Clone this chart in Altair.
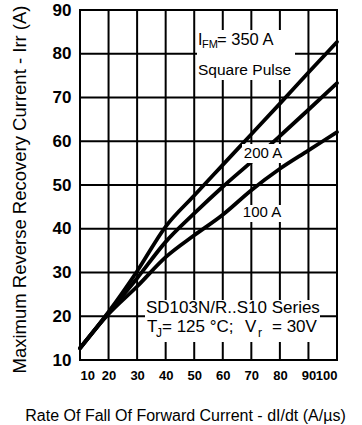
import altair as alt
import pandas as pd

# ---- data ----
rate = [10, 20, 30, 40, 50, 60, 70, 80, 90, 100]          # dI/dt (A/us)
irr_350 = [12.7, 21.0, 30.3, 40.5, 47.6, 54.6, 61.6, 68.6, 75.7, 82.7]
irr_200 = [12.7, 20.8, 28.7, 37.0, 43.5, 49.6, 55.3, 61.2, 67.2, 73.3]
irr_100 = [12.7, 20.5, 26.8, 33.5, 38.5, 43.2, 48.8, 53.7, 57.9, 62.1]
series_names = ["350 A", "200 A", "100 A"]
x_ticks = [10, 20, 30, 40, 50, 60, 70, 80, 90, 100]
y_ticks = [10, 20, 30, 40, 50, 60, 70, 80, 90]

rows = []
for name, vals in zip(series_names, [irr_350, irr_200, irr_100]):
    for r, v in zip(rate, vals):
        rows.append({"series": name, "rate": r, "irr": v})
df = pd.DataFrame(rows)

# grid lines built from the tick lists (each line from one end of the axis to the other)
grid_rows = []
for t in x_ticks:
    grid_rows.append({"g": f"x{t}", "rate": t, "irr": y_ticks[0]})
    grid_rows.append({"g": f"x{t}", "rate": t, "irr": y_ticks[-1]})
for t in y_ticks:
    grid_rows.append({"g": f"y{t}", "rate": x_ticks[0], "irr": t})
    grid_rows.append({"g": f"y{t}", "rate": x_ticks[-1], "irr": t})
grid_df = pd.DataFrame(grid_rows)
one = pd.DataFrame([{"k": 0}])

FONT = "Liberation Sans, Arial, sans-serif"

xscale = alt.Scale(domain=[10, 100], nice=False, zero=False)
yscale = alt.Scale(domain=[10, 90], nice=False, zero=False)

xaxis = alt.Axis(values=x_ticks, grid=False, labelOverlap=False,
                 title="Rate Of Fall Of Forward Current - dI/dt (A/µs)",
                 titleX=105, titleY=55, titleAlign="center", titleBaseline="middle",
                 labelPadding=9)
yaxis = alt.Axis(values=y_ticks, grid=False, labelOverlap=False,
                 title="Maximum Reverse Recovery Current - Irr (A)",
                 titleX=-61, titleY=179, titleAlign="center", titleBaseline="middle",
                 labelPadding=9)

grid = alt.Chart(grid_df).mark_line(color="#000000", strokeWidth=2, opacity=1).encode(
    x=alt.X("rate:Q", scale=xscale, axis=xaxis),
    y=alt.Y("irr:Q", scale=yscale, axis=yaxis),
    detail="g:N",
)

lines = alt.Chart(df).mark_line(
    color="black", strokeWidth=3.8, interpolate="monotone", strokeCap="round"
).encode(
    x=alt.X("rate:Q", scale=xscale, axis=xaxis),
    y=alt.Y("irr:Q", scale=yscale, axis=yaxis),
    detail="series:N",
)

# white label backgrounds (pixel positions inside the plot area)
def box(x1, x2, y1, y2):
    return alt.Chart(one).mark_rect(fill="white", strokeWidth=0).encode(
        x=alt.value(x1), x2=alt.value(x2), y=alt.value(y1), y2=alt.value(y2)
    )

boxes = [
    box(117, 215, 20, 70),
    box(162, 204, 134, 153),
    box(163, 202, 195, 212),
    box(65, 240, 290, 332),
]

def txt(s, x, y, size=14, align="left", dy=0):
    return alt.Chart(one).mark_text(
        text=s, font=FONT, fontSize=size, align=align, baseline="middle",
        color="black", dy=dy
    ).encode(x=alt.value(x), y=alt.value(y))

texts = [
    txt("I", 118, 30, 16),
    txt("FM", 122, 30, 11, dy=5),
    txt("= 350 A", 137, 30, 16.5),
    txt("Square Pulse", 118, 60, 15.5),
    txt("200 A", 183, 143, 15, align="center"),
    txt("100 A", 182, 202, 15, align="center"),
    txt("SD103N/R..S10 Series", 66, 298, 17),
    txt("T", 67, 317, 17),
    txt("J", 76, 317, 12, dy=6),
    txt("= 125 °C;", 82, 317, 17),
    txt("V", 165, 317, 17),
    txt("r", 178, 317, 12, dy=6),
    txt("= 30V", 192, 317, 17),
]

chart = alt.layer(grid, lines, *boxes, *texts).properties(
    width=257, height=350,
    autosize=alt.AutoSizeParams(type="none"),
    padding={"left": 80, "top": 10, "right": 25, "bottom": 65},
).configure_view(
    stroke="black", strokeWidth=2
).configure_axis(
    domain=False, ticks=False,
    labelFont=FONT, labelFontWeight="bold", labelColor="black",
    titleFont=FONT, titleFontWeight="normal", titleColor="black",
).configure_axisX(
    labelFontSize=13, titleFontSize=16
).configure_axisY(
    labelFontSize=17, titleFontSize=18.5
)

chart.save("out.html", embed_options={"renderer": "svg", "actions": False})
